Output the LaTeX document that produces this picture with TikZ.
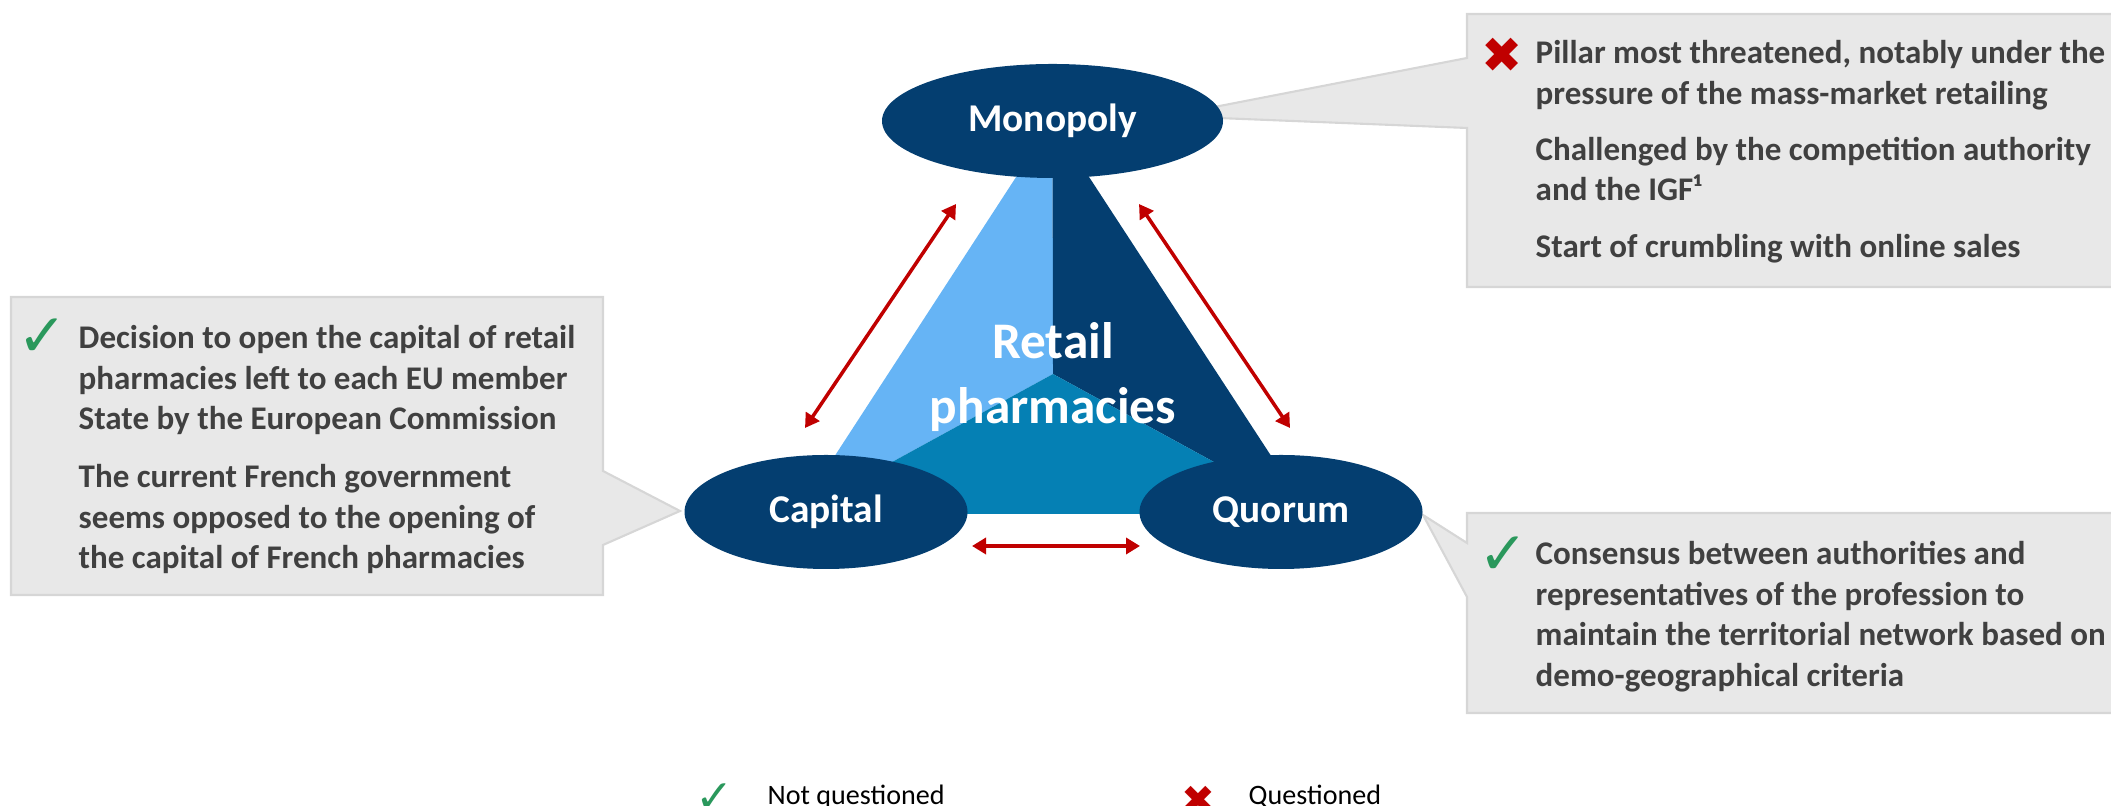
\documentclass[tikz,border=0pt]{standalone}
\usepackage{fontspec}
\setmainfont{Carlito}
\newfontfamily\iconfont{DejaVu Sans}
\usetikzlibrary{shapes.geometric,arrows.meta}
\definecolor{navy}{RGB}{4,62,112}
\definecolor{skyblue}{RGB}{102,180,245}
\definecolor{midblue}{RGB}{5,128,180}
\definecolor{boxgray}{RGB}{232,232,232}
\definecolor{boxline}{RGB}{214,214,214}
\definecolor{notegray}{RGB}{64,64,64}
\definecolor{darkred}{RGB}{192,0,0}
\definecolor{okgreen}{RGB}{42,152,92}

\begin{document}
\begin{tikzpicture}[
  pillar/.style={ellipse, fill=navy, minimum height=1.14cm, inner sep=0pt,
    text=white, font=\bfseries\fontsize{11.2}{13}\selectfont},
  callout/.style={fill=boxgray, draw=boxline, line width=0.6pt},
  note/.style={anchor=north west, inner sep=0pt, align=left, text=notegray,
    font=\bfseries\fontsize{9.4}{11.5}\selectfont},
  okmark/.style={text=okgreen, inner sep=0pt, font=\iconfont\fontsize{17}{17}\selectfont},
  komark/.style={text=darkred, inner sep=0pt, font=\iconfont\fontsize{14}{14}\selectfont},
  legend/.style={anchor=base west, inner sep=0pt, font=\fontsize{8}{9.6}\selectfont},
  >={Triangle[length=1.4mm, width=1.6mm]},
  arr/.style={<->, darkred, line width=1pt}
]
\useasboundingbox (0,0) rectangle (21.11,8.06);
\clip (0,0) rectangle (21.11,8.06);

% corners of the triangle
\coordinate (apex) at (10.525,6.85);
\coordinate (lowleft) at (7.97,2.92);
\coordinate (lowright) at (13.09,2.92);
\coordinate (hub) at (10.53,4.32);

% tips of the grey callouts
\coordinate (montip) at (11.68,6.90);
\coordinate (captip) at (6.80,2.95);
\coordinate (quotip) at (14.23,2.91);

% three callouts
\draw[callout] (14.67,7.92) -- (21.3,7.92) -- (21.3,5.19) -- (14.67,5.19)
  -- (14.67,6.78) -- (montip) -- (14.67,7.48) -- cycle;
\draw[callout] (0.11,5.09) -- (6.03,5.09) -- (6.03,3.35) -- (captip)
  -- (6.03,2.61) -- (6.03,2.11) -- (0.11,2.11) -- cycle;
\draw[callout] (14.67,2.93) -- (21.3,2.93) -- (21.3,0.93) -- (14.67,0.93)
  -- (14.67,2.09) -- (quotip) -- (14.67,2.63) -- cycle;

% triangle in three parts
\fill[skyblue] (apex) -- (hub) -- (lowleft) -- cycle;
\fill[navy] (apex) -- (lowright) -- (hub) -- cycle;
\fill[midblue] (hub) -- (lowleft) -- (lowright) -- cycle;
\node[text=white, align=center, font=\bfseries\fontsize{14.6}{18.5}\selectfont] (core) at (10.53,4.29) {Retail\\pharmacies};

% the three pillars
\node[pillar, minimum width=3.41cm] (monopoly) at (apex) {Monopoly};
\node[pillar, minimum width=2.83cm] (capital) at (8.26,2.94) {Capital};
\node[pillar, minimum width=2.83cm] (quorum) at (12.81,2.94) {Quorum};

% arrow ends
\coordinate (capup) at (8.05,3.78);
\coordinate (monleft) at (9.56,6.02);
\coordinate (quoup) at (12.90,3.78);
\coordinate (monright) at (11.39,6.02);
\coordinate (capright) at (9.72,2.60);
\coordinate (quoleft) at (11.40,2.60);

\draw[arr] (capup) -- (monleft);
\draw[arr] (quoup) -- (monright);
\draw[arr] (capright) -- (quoleft);

% callout texts
\node[komark] (monmark) at (15.02,7.51) {✖};
\node[note] (monnote) at (15.35,7.66) {Pillar most threatened, notably under the\\
  pressure of the mass-market retailing\\[4.5pt]
  Challenged by the competition authority\\
  and the IGF¹\\[4.5pt]
  Start of crumbling with online sales};

\node[okmark] (capmark) at (0.43,4.68) {✓};
\node[note] (capnote) at (0.78,4.81) {Decision to open the capital of retail\\
  pharmacies left to each EU member\\
  State by the European Commission\\[5pt]
  The current French government\\
  seems opposed to the opening of\\
  the capital of French pharmacies};

\node[okmark] (quomark) at (15.04,2.50) {✓};
\node[note] (quonote) at (15.35,2.65) {Consensus between authorities and\\
  representatives of the profession to\\
  maintain the territorial network based on\\
  demo-geographical criteria};

% legend
\node[okmark, font=\iconfont\fontsize{13}{13}\selectfont] (legok) at (7.15,0.08) {✓};
\node[legend] (legoktext) at (7.67,0.01) {Not questioned};
\node[komark, font=\iconfont\fontsize{11.5}{11.5}\selectfont] (legko) at (11.98,0.06) {✖};
\node[legend] (legkotext) at (12.48,0.01) {Questioned};

\end{tikzpicture}
\end{document}
